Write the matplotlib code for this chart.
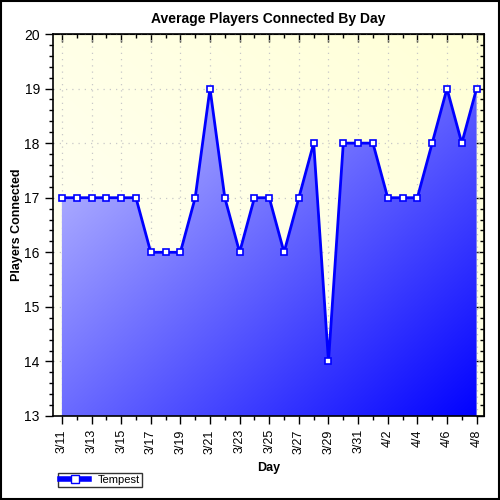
import numpy as np
import matplotlib
matplotlib.use("Agg")
import matplotlib.pyplot as plt
import matplotlib.patches as patches
from matplotlib.lines import Line2D
from matplotlib.ticker import MultipleLocator, NullFormatter

plt.rcParams["font.family"] = ["Liberation Sans", "DejaVu Sans"]

days = ["3/11", "3/12", "3/13", "3/14", "3/15", "3/16", "3/17", "3/18", "3/19", "3/20",
        "3/21", "3/22", "3/23", "3/24", "3/25", "3/26", "3/27", "3/28", "3/29", "3/30",
        "3/31", "4/1", "4/2", "4/3", "4/4", "4/5", "4/6", "4/7", "4/8"]
tempest = [17, 17, 17, 17, 17, 17, 16, 16, 16, 17,
           19, 17, 16, 17, 17, 16, 17, 18, 14, 18,
           18, 18, 17, 17, 17, 18, 19, 18, 19]

x = np.arange(len(days))
y = np.array(tempest)

fig = plt.figure(figsize=(5, 5), dpi=100)
ax = fig.add_axes([0.106, 0.168, 0.862, 0.764])
xlim = (-0.6, 28.5)
ylim = (13, 20)
ax.set_xlim(*xlim)
ax.set_ylim(*ylim)

# diagonal gradients (axes-space)
n = 200
gx, gy = np.meshgrid(np.linspace(0, 1, n), np.linspace(1, 0, n))
u = (gx + (1 - gy)) / 2  # 0 top-left -> 1 bottom-right
light = np.array([0.85, 0.85, 1.0])
dark = np.array([0.0, 0.0, 1.0])
fill_img = light * (1 - u[..., None]) + dark * u[..., None]

v = (gx + gy) / 2  # 0 bottom-left -> 1 top-right
bg_lo = np.array([1.0, 1.0, 0.97])
bg_hi = np.array([1.0, 1.0, 0.84])
bg_img = bg_lo * (1 - v[..., None]) + bg_hi * v[..., None]

ext = [xlim[0], xlim[1], ylim[0], ylim[1]]
ax.imshow(bg_img, extent=ext, aspect="auto", zorder=-1, interpolation="bilinear")

ax.set_axisbelow(True)
ax.grid(True, which="major", color="#c8c8c8", linestyle=(0, (1, 4)), linewidth=0.9)

poly = ax.fill_between(x, y, ylim[0], facecolor="none", edgecolor="none", zorder=2)
im = ax.imshow(fill_img, extent=ext, aspect="auto", zorder=2, interpolation="bilinear")
im.set_clip_path(poly.get_paths()[0], transform=ax.transData)

ax.plot(x, y, color="#0000ff", lw=2, zorder=3, marker="s", markersize=5,
        markerfacecolor="white", markeredgecolor="#0000ff", markeredgewidth=1.2,
        clip_on=False)
ax.set_xlim(*xlim)
ax.set_ylim(*ylim)

ax.set_xticks(x[::2])
ax.set_xticks(x, minor=True)
ax.set_xticklabels(days[::2], rotation=90, fontsize=9)
ax.yaxis.set_major_locator(MultipleLocator(1))
ax.yaxis.set_minor_locator(MultipleLocator(0.2))
ax.tick_params(axis="y", labelsize=10)
ax.tick_params(which="major", direction="out", length=6, width=1)
ax.tick_params(which="minor", direction="out", length=3, width=1)

# inward ticks on the top and right edges
top = ax.secondary_xaxis("top")
top.set_xticks(x[::2])
top.set_xticks(x, minor=True)
top.xaxis.set_major_formatter(NullFormatter())
top.tick_params(which="major", direction="in", length=6, width=1)
top.tick_params(which="minor", direction="in", length=3, width=1)
right = ax.secondary_yaxis("right")
right.yaxis.set_major_locator(MultipleLocator(1))
right.yaxis.set_minor_locator(MultipleLocator(0.2))
right.yaxis.set_major_formatter(NullFormatter())
right.tick_params(which="major", direction="in", length=6, width=1)
right.tick_params(which="minor", direction="in", length=3, width=1)

for s in ax.spines.values():
    s.set_linewidth(1.2)

ax.set_title("Average Players Connected By Day", fontsize=10, fontweight="bold", pad=8)
ax.set_xlabel("Day", fontsize=9, fontweight="bold", labelpad=6)
ax.set_ylabel("Players Connected", fontsize=9, fontweight="bold")
ax.yaxis.set_label_coords(-0.07, 0.5)

handle = Line2D([], [], color="#0000ff", lw=4, marker="s", markersize=6,
                markerfacecolor="white", markeredgecolor="#0000ff")
leg = fig.legend([handle], ["Tempest"], loc="lower left",
                 bbox_to_anchor=(0.105, 0.015), fontsize=8, frameon=True,
                 fancybox=False, borderpad=0.2, handlelength=2.6, handletextpad=0.8)
leg.get_frame().set_edgecolor("black")
leg.get_frame().set_linewidth(1)

fig.patches.append(patches.Rectangle((0.002, 0.002), 0.996, 0.996, transform=fig.transFigure,
                                     fill=False, edgecolor="black", linewidth=1.5))

fig.savefig("out.png", dpi=100, facecolor="white")
